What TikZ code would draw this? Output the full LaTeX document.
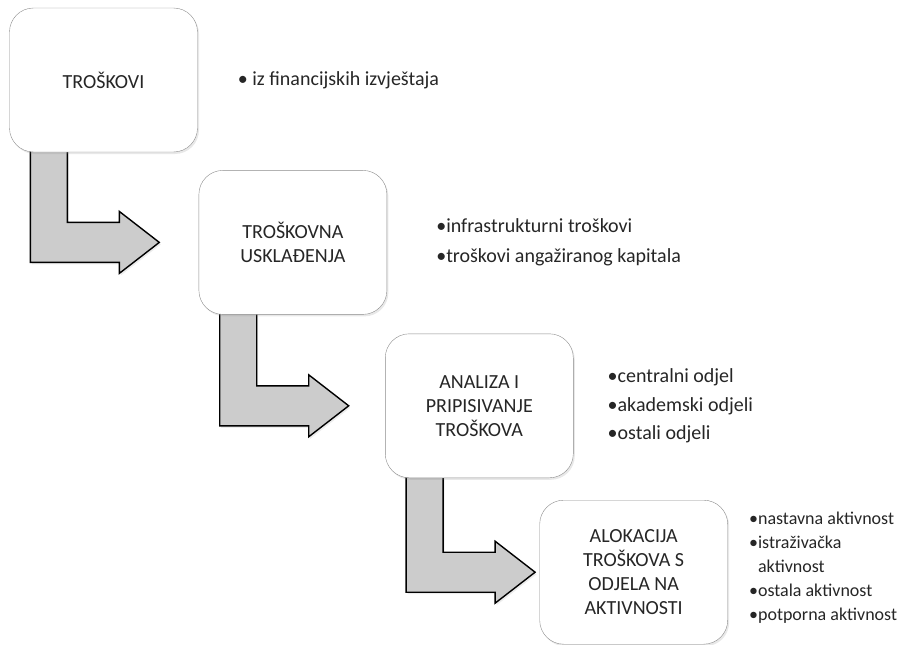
\documentclass[tikz,border=0pt]{standalone}
\usepackage{fontspec}
\setmainfont{Carlito}
\usetikzlibrary{calc,positioning,shadows,backgrounds}

\begin{document}
\begin{tikzpicture}[x=1pt,y=-1pt,
    stage/.style={draw=black!45,fill=white,rounded corners=24pt,
      minimum width=188pt,minimum height=144pt,align=center,
      text=black!85,font=\fontsize{20}{24}\selectfont,
      drop shadow={shadow xshift=1.5pt,shadow yshift=-2pt,opacity=0.18}},
    items/.style={inner sep=0pt,align=left,text=black!85},
    turn/.style={draw=black,line width=1.4pt,fill=black!20,
      drop shadow={shadow xshift=1.5pt,shadow yshift=-2pt,opacity=0.15}}]

  \useasboundingbox (0,0) rectangle (898,645);

  \node[stage] (k1) at (103.5,80) {TROŠKOVI};
  \node[stage,below right=18pt and 1pt of k1] (k2) {TROŠKOVNA\\USKLAĐENJA};
  \node[stage,below right=19pt and -2pt of k2] (k3) {ANALIZA I\\PRIPISIVANJE\\TROŠKOVA};
  \node[stage,below right=22pt and -34pt of k3] (k4) {ALOKACIJA\\TROŠKOVA S\\ODJELA NA\\AKTIVNOSTI};

  \node[items,right=40pt of k1,font=\fontsize{20}{30}\selectfont] (l1)
    {• iz financijskih izvještaja};
  \node[items,right=49pt of k2,font=\fontsize{20}{30}\selectfont] (l2)
    {•infrastrukturni troškovi\\•troškovi angažiranog kapitala};
  \node[items,right=34pt of k3,font=\fontsize{20}{28.5}\selectfont] (l3)
    {•centralni odjel\\•akademski odjeli\\•ostali odjeli};
  \node[items,right=21pt of k4,yshift=5pt,font=\fontsize{18}{24}\selectfont] (l4)
    {•nastavna aktivnost\\•istraživačka\\\phantom{•}aktivnost\\•ostala aktivnost\\•potporna aktivnost};

  % bent arrows between the stages
  \begin{pgfonlayer}{background}
    \foreach \a/\b in {k1/k2,k2/k3,k3/k4}
      \draw[turn] let \p1=(\a.south west), \p2=(\b.center) in
        (\x1+21pt,\y1+6pt) -- (\x1+21pt,\y2-20pt) -- (\x1+110pt,\y2-20pt)
        -- (\x1+110pt,\y2-31pt) -- (\x1+150pt,\y2) -- (\x1+110pt,\y2+31pt)
        -- (\x1+110pt,\y2+20pt) -- (\x1+58pt,\y2+20pt) -- (\x1+58pt,\y1+6pt);
  \end{pgfonlayer}
\end{tikzpicture}
\end{document}
